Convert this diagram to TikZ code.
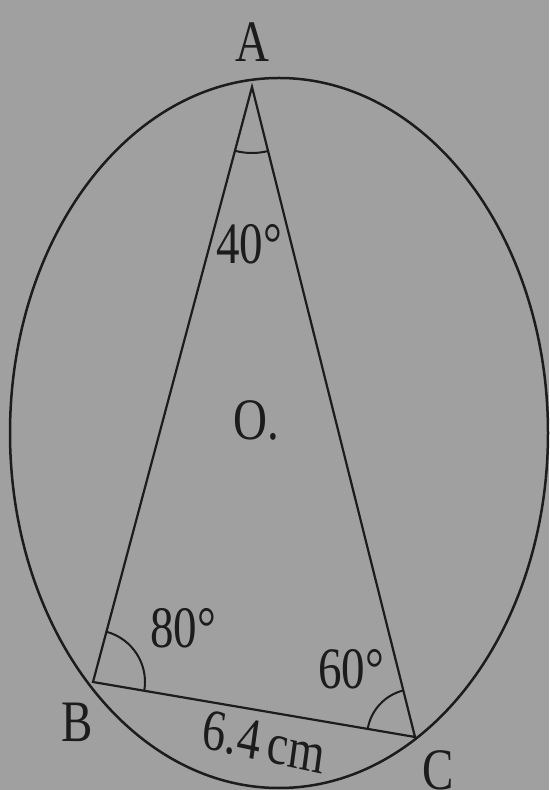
\documentclass[tikz,border=0pt]{standalone}
\usepackage{fontspec}
\setmainfont{Liberation Serif}
\usetikzlibrary{angles,calc}
\definecolor{paper}{RGB}{160,160,160}
\definecolor{ink}{RGB}{28,28,28}
\tikzset{
  edge/.style={draw=ink, line width=2.2pt},
  lbl/.style={text=ink, font=\fontsize{47}{50}\selectfont, inner sep=0pt, yscale=1.25},
  angmark/.style={draw=ink, line width=2pt}
}
\begin{document}
\begin{tikzpicture}[x=1pt,y=1pt]
\useasboundingbox (0,0) rectangle (549,790);
\fill[paper] (0,0) rectangle (549,790);
\coordinate (O) at (279,357);
\coordinate (A) at (252,703);
\coordinate (B) at (93,108);
\coordinate (C) at (415,53);
\draw[edge, line width=2.5pt] (O) ellipse [x radius=269, y radius=355];
\draw[edge] (A) -- (B) -- (C) -- cycle;
\pic[angmark, angle radius=66pt] {angle=B--A--C};
\pic[angmark, angle radius=52pt] {angle=C--B--A};
\pic[angmark, angle radius=48pt] {angle=A--C--B};
\node[lbl] (la) at (252,748) {A};
\node[lbl] (lb) at (77,68) {B};
\node[lbl] (lc) at (438,20) {C};
\node[lbl] (l40) at (249,546) {40°};
\node[lbl] (lo) at (256,370) {O.};
\node[lbl] (l80) at (183,162) {80°};
\node[lbl] (l60) at (351,121) {60°};
\node[lbl, rotate=-9.7] (lbc) at (264,48) {6.4\,cm};
\end{tikzpicture}
\end{document}
